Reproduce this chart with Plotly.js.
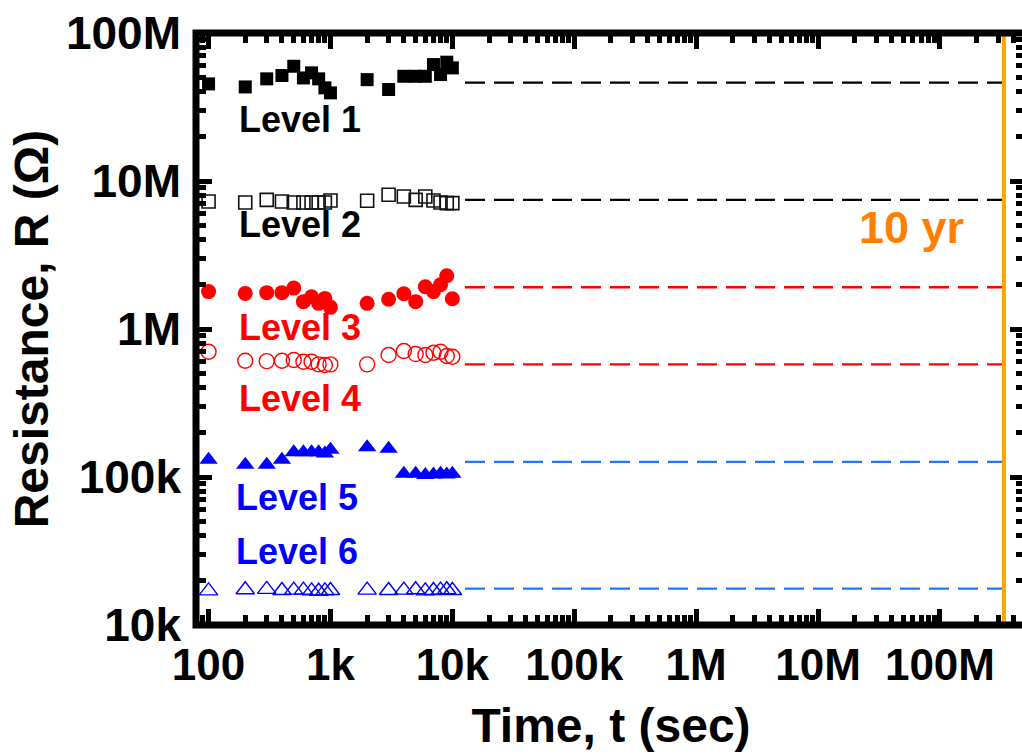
<!DOCTYPE html>
<html>
<head>
<meta charset="utf-8">
<script src="https://cdn.plot.ly/plotly-3.0.1.min.js"></script>
<style>
  html, body { margin: 0; padding: 0; background: #ffffff; overflow: hidden; }
  #chart { width: 1030px; height: 756px; }
</style>
</head>
<body>
<div id="chart"></div>
<script>
// ---- data ----
const timeSec = [100, 200, 300, 400, 500, 600, 700, 800, 900, 1000,
                 2000, 3000, 4000, 5000, 6000, 7000, 8000, 9000, 10000];

const level1 = [45.3e6, 43.2e6, 49.0e6, 51.6e6, 59.6e6, 49.7e6, 53.8e6, 49.0e6, 42.6e6, 39.4e6,
                48.4e6, 41.5e6, 51.0e6, 51.0e6, 51.0e6, 61.2e6, 52.4e6, 63.5e6, 58.1e6];
const level2 = [7.27e6, 7.16e6, 7.46e6, 7.27e6, 7.16e6, 7.16e6, 7.16e6, 7.16e6, 7.16e6, 7.38e6,
                7.35e6, 8.07e6, 7.86e6, 7.46e6, 7.86e6, 7.38e6, 7.16e6, 7.09e6, 7.09e6];
const level3 = [1.79e6, 1.74e6, 1.76e6, 1.76e6, 1.89e6, 1.53e6, 1.65e6, 1.49e6, 1.61e6, 1.40e6,
                1.49e6, 1.59e6, 1.73e6, 1.53e6, 1.93e6, 1.79e6, 1.99e6, 2.29e6, 1.60e6];
const level4 = [702e3, 610e3, 607e3, 610e3, 617e3, 601e3, 601e3, 577e3, 571e3, 577e3,
                577e3, 667e3, 710e3, 677e3, 667e3, 691e3, 702e3, 657e3, 649e3];
const level5 = [131e3, 121e3, 121e3, 131e3, 147e3, 147e3, 147e3, 147e3, 144e3, 153e3,
                159e3, 155e3, 105e3, 105e3, 103e3, 104e3, 105e3, 104e3, 105e3];
const level6 = [17.0e3, 17.3e3, 17.4e3, 17.1e3, 17.2e3, 17.2e3, 17.0e3, 16.9e3, 17.0e3, 17.1e3,
                17.2e3, 17.1e3, 17.2e3, 17.3e3, 17.0e3, 17.1e3, 17.2e3, 17.3e3, 17.1e3];

// extrapolated retention levels out to the 10-year mark
const extrapTimes = [1.27e4, 3.35e8];
const extrapLevels = [46.2e6, 7.46e6, 1.915e6, 577e3, 126.5e3, 17.6e3];

// 10-year marker (position)
const tenYears = 3.35e8;
const rangeR = [1e4, 1e8];

const levelNames = ['Level 1', 'Level 2', 'Level 3', 'Level 4', 'Level 5', 'Level 6'];

const xTickVals = [1e2, 1e3, 1e4, 1e5, 1e6, 1e7, 1e8];
const xTickText = ['100', '1k', '10k', '100k', '1M', '10M', '100M'];
const yTickVals = [1e4, 1e5, 1e6, 1e7, 1e8];
const yTickText = ['10k', '100k', '1M', '10M', '100M'];

// ---- styling ----
const FONT = 'Liberation Sans, Arial, Helvetica, sans-serif';
const BLUE = '#0000FF', RED = '#FF0000', BLACK = '#000000';
const DASHBLUE = '#1A75FF';
const ORANGE_LINE = '#FFA500', ORANGE_TEXT = '#FF8000';

function minorVals(lo, hi) {
  const v = [];
  for (let d = lo; d <= hi; d++) {
    for (let k = 2; k <= 9; k++) v.push(k * Math.pow(10, d));
  }
  return v;
}

const allLevels = [level1, level2, level3, level4, level5, level6];
const markerStyles = [
  {symbol: 'square', size: 13, color: BLACK, line: {width: 0}},
  {symbol: 'square-open', size: 13, color: '#111111', line: {width: 1.6}},
  {symbol: 'circle', size: 15, color: RED, line: {width: 0}},
  {symbol: 'circle-open', size: 15, color: RED, line: {width: 1.4}},
  {symbol: 'triangle-up', size: 16, color: BLUE, line: {width: 0}},
  {symbol: 'triangle-up-open', size: 16, color: BLUE, line: {width: 1.4}}
];
const dashColors = [BLACK, BLACK, RED, RED, DASHBLUE, DASHBLUE];

const traces = [];
extrapLevels.forEach((lv, i) => {
  traces.push({
    x: extrapTimes, y: [lv, lv], mode: 'lines', type: 'scatter',
    line: {color: dashColors[i], width: 2.3, dash: '20px,9px'},
    hoverinfo: 'skip', showlegend: false
  });
});
traces.push({
  x: [tenYears, tenYears], y: rangeR, mode: 'lines', type: 'scatter',
  line: {color: ORANGE_LINE, width: 4}, hoverinfo: 'skip', showlegend: false
});
allLevels.forEach((vals, i) => {
  traces.push({
    x: timeSec, y: vals, mode: 'markers', type: 'scatter', name: levelNames[i],
    marker: markerStyles[i], showlegend: false, cliponaxis: false
  });
});

const labelColors = [BLACK, BLACK, RED, RED, BLUE, BLUE];
const labelPos = [[0.1253, 0.854], [0.1253, 0.6765], [0.1253, 0.5017], [0.1253, 0.3818], [0.1213, 0.2154], [0.1213, 0.125]];
const annotations = levelNames.map((t, i) => ({
  text: t, xref: 'paper', yref: 'paper', x: labelPos[i][0], y: labelPos[i][1],
  xanchor: 'center', yanchor: 'middle', showarrow: false,
  font: {family: FONT, size: 36, color: labelColors[i], weight: 'bold'}
}));
annotations.push({
  text: '10 yr', xref: 'paper', yref: 'paper', x: 0.862, y: 0.672,
  xanchor: 'center', yanchor: 'middle', showarrow: false,
  font: {family: FONT, size: 45, color: ORANGE_TEXT, weight: 'bold'}
});

const layout = {
  width: 1030, height: 756,
  margin: {l: 196, r: 4, t: 33, b: 131},
  paper_bgcolor: '#ffffff', plot_bgcolor: '#ffffff',
  showlegend: false,
  xaxis: {
    type: 'log', range: [1.897, 8.706], showgrid: false, zeroline: false,
    showline: false, mirror: 'ticks',
    tickmode: 'array', tickvals: xTickVals, ticktext: xTickText,
    ticks: 'inside', ticklen: 16, tickwidth: 5, tickcolor: BLACK,
    minor: {tickmode: 'array', tickvals: minorVals(1, 8), ticks: 'inside', ticklen: 10, tickwidth: 5, tickcolor: BLACK, showgrid: false},
    ticklabelstandoff: 10,
    tickfont: {family: FONT, size: 44, color: BLACK, weight: 'bold'},
    title: {text: 'Time, t (sec)', font: {family: FONT, size: 48, color: BLACK, weight: 'bold'}, standoff: 20}
  },
  yaxis: {
    type: 'log', range: [4, 8], showgrid: false, zeroline: false,
    showline: false, mirror: 'ticks',
    tickmode: 'array', tickvals: yTickVals, ticktext: yTickText,
    ticks: 'inside', ticklen: 16, tickwidth: 5, tickcolor: BLACK,
    minor: {tickmode: 'array', tickvals: minorVals(3, 8), ticks: 'inside', ticklen: 10, tickwidth: 5, tickcolor: BLACK, showgrid: false},
    ticklabelstandoff: 14,
    tickfont: {family: FONT, size: 46, color: BLACK, weight: 'bold'},
    title: {text: 'Resistance, R (Ω)', font: {family: FONT, size: 48, color: BLACK, weight: 'bold'}, standoff: 2}
  },
  shapes: [{
    type: 'rect', xref: 'paper', yref: 'paper', x0: 0, x1: 1, y0: 0, y1: 1,
    line: {color: BLACK, width: 7}, fillcolor: 'rgba(0,0,0,0)', layer: 'above'
  }],
  annotations: annotations
};

Plotly.newPlot('chart', traces, layout, {staticPlot: true, displayModeBar: false});
</script>
</body>
</html>
